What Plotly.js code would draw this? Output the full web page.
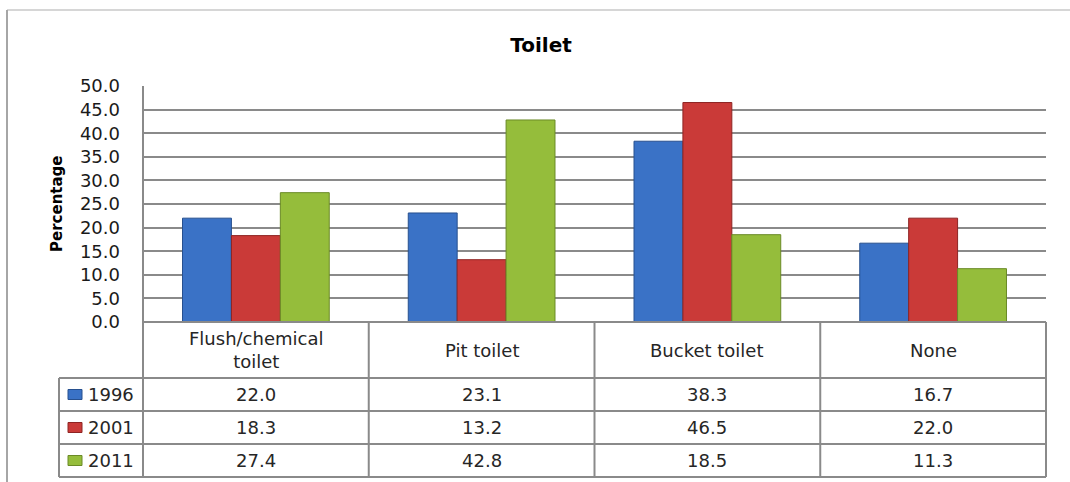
<!DOCTYPE html>
<html>
<head>
<meta charset="utf-8">
<script src="https://cdn.plot.ly/plotly-3.0.1.min.js"></script>
<style>html,body{margin:0;padding:0;background:#fff;}#chart{width:1070px;height:482px;}</style>
</head>
<body>
<div id="chart"></div>
<script>
// ---- data ----
const categories = ['Flush/chemical toilet', 'Pit toilet', 'Bucket toilet', 'None'];
const headerLabels = ['Flush/chemical<br>toilet', 'Pit toilet', 'Bucket toilet', 'None'];
const years = ['1996', '2001', '2011'];
const values1996 = [22.0, 23.1, 38.3, 16.7];
const values2001 = [18.3, 13.2, 46.5, 22.0];
const values2011 = [27.4, 42.8, 18.5, 11.3];
const yTicks = [0, 5, 10, 15, 20, 25, 30, 35, 40, 45, 50];

// ---- styles ----
const W = 1070, H = 482;
const L = 143, R = 1046, T = 86, B = 322;
const PW = R - L, PH = B - T;
const px2x = p => (p - L) / PW;
const py2y = p => (B - p) / PH;
const FONT = 'DejaVu Sans';
const GRID = '#8a8a8a';
const seriesValues = [values1996, values2001, values2011];
const fills = ['#3a72c6', '#ca3a38', '#95bd3b'];
const edges = ['#27508f', '#8e2423', '#6a8a26'];

const traces = years.map((y, i) => ({
  type: 'bar', name: y, x: categories, y: seriesValues[i],
  marker: {color: fills[i], line: {color: edges[i], width: 1}},
  hoverinfo: 'skip'
}));

// table geometry (pixels)
const rowLines = [322, 378, 411, 444, 477];
const legendLeft = 59;
const shapes = [];
const line = (x0, y0, x1, y1, color, width) => shapes.push({
  type: 'line', xref: 'paper', yref: 'paper',
  x0: px2x(x0), y0: py2y(y0), x1: px2x(x1), y1: py2y(y1),
  line: {color: color || GRID, width: width || 2}, layer: 'above'
});
// outer chart frame
line(7, 10, 1075, 10, '#d6d6d6', 2);
line(7, 10, 7, 490, '#a6a6a6', 2);
// horizontal table lines
line(L, rowLines[0], R, rowLines[0]);
for (let k = 1; k < rowLines.length; k++) line(legendLeft, rowLines[k], R, rowLines[k]);
// vertical table lines
line(L, T, L, rowLines[4]);
line(legendLeft, rowLines[1], legendLeft, rowLines[4]);
line(R, rowLines[0], R, rowLines[4]);
for (let j = 0; j < categories.length - 1; j++) {
  shapes.push({type: 'line', xref: 'x', yref: 'paper', x0: j + 0.5, x1: j + 0.5,
    y0: py2y(rowLines[0]), y1: py2y(rowLines[4]), line: {color: GRID, width: 2}, layer: 'above'});
}

const annotations = [];
// header labels
categories.forEach((c, j) => annotations.push({
  xref: 'x', yref: 'paper', x: j, y: py2y((rowLines[0] + rowLines[1]) / 2),
  text: headerLabels[j], showarrow: false, xanchor: 'center', yanchor: 'middle',
  font: {family: FONT, size: 18, color: '#262626'}
}));
// value rows
years.forEach((yr, i) => {
  const rc = (rowLines[i + 1] + rowLines[i + 2]) / 2;
  seriesValues[i].forEach((v, j) => annotations.push({
    xref: 'x', yref: 'paper', x: j, y: py2y(rc), text: v.toFixed(1),
    showarrow: false, xanchor: 'center', yanchor: 'middle',
    font: {family: FONT, size: 18, color: '#262626'}
  }));
  annotations.push({
    xref: 'paper', yref: 'paper', x: px2x(86), y: py2y(rc), text: yr,
    showarrow: false, xanchor: 'left', yanchor: 'middle',
    font: {family: FONT, size: 18, color: '#262626'}
  });
  shapes.push({type: 'rect', xref: 'paper', yref: 'paper',
    x0: px2x(68), x1: px2x(82), y0: py2y(rc - 5), y1: py2y(rc + 5),
    fillcolor: fills[i], line: {color: edges[i], width: 1}, layer: 'above'});
});
// y-axis title
annotations.push({
  xref: 'paper', yref: 'paper', x: px2x(57), y: 0.5, text: 'Percentage',
  textangle: -90, showarrow: false, xanchor: 'center', yanchor: 'middle',
  font: {family: FONT, size: 15, color: '#000', weight: 'bold'}
});

const layout = {
  width: W, height: H,
  margin: {l: L, r: W - R, t: T, b: H - B, pad: 0},
  paper_bgcolor: '#ffffff', plot_bgcolor: '#ffffff',
  title: {text: '<b>Toilet</b>', x: px2x(541), xref: 'paper', y: 1 - 45 / H, yref: 'container',
    xanchor: 'center', yanchor: 'middle', font: {family: FONT, size: 20, color: '#000'}},
  showlegend: false,
  barmode: 'group', bargap: 0.35, bargroupgap: 0,
  xaxis: {type: 'category', showticklabels: false, ticks: '', showgrid: false,
    zeroline: false, showline: false, range: [-0.5, 3.5], fixedrange: true},
  yaxis: {range: [0, 50], tickvals: yTicks, tickformat: '.1f', ticks: '',
    ticklabelstandoff: 22,
    showgrid: true, gridcolor: GRID, gridwidth: 2, zeroline: false, showline: false,
    tickfont: {family: FONT, size: 18, color: '#1a1a1a'}, fixedrange: true},
  shapes: shapes, annotations: annotations
};

Plotly.newPlot('chart', traces, layout, {displayModeBar: false, staticPlot: true});
</script>
</body>
</html>
